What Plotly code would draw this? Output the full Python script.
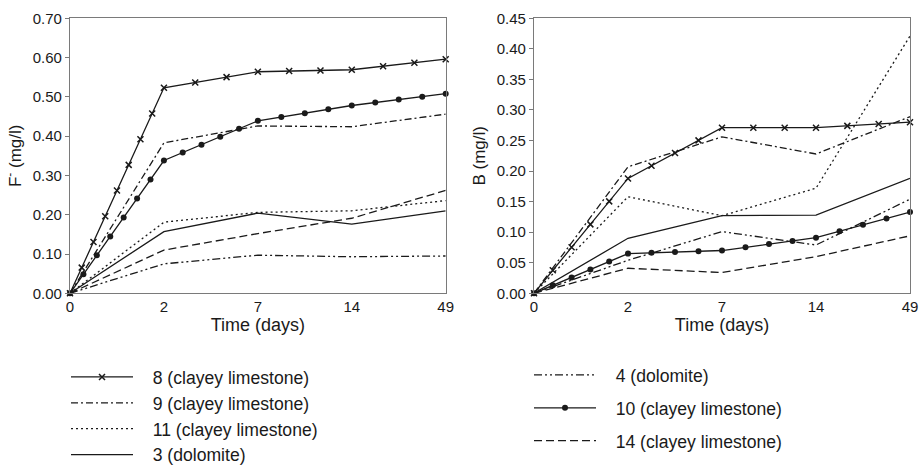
import numpy as np
import plotly.graph_objects as go

# ---------------- data ----------------
time_days = [0, 2, 7, 14, 49]          # sampling times (days), shown on an evenly spaced axis
time_labels = [str(d) for d in time_days]

# F- (mg/l)
f_8 = [0, 0.523, 0.564, 0.569, 0.596]
f_9 = [0, 0.383, 0.426, 0.424, 0.456]
f_11 = [0, 0.181, 0.206, 0.210, 0.236]
f_3 = [0, 0.157, 0.204, 0.176, 0.210]
f_4 = [0, 0.075, 0.097, 0.093, 0.095]
f_10 = [0, 0.338, 0.439, 0.478, 0.508]
f_14 = [0, 0.110, 0.152, 0.191, 0.262]

# B (mg/l)
b_8 = [0, 0.188, 0.271, 0.271, 0.280]
b_9 = [0, 0.207, 0.256, 0.228, 0.289]
b_11 = [0, 0.158, 0.127, 0.172, 0.421]
b_3 = [0, 0.090, 0.127, 0.128, 0.188]
b_4 = [0, 0.054, 0.101, 0.079, 0.154]
b_10 = [0, 0.065, 0.070, 0.091, 0.133]
b_14 = [0, 0.041, 0.034, 0.060, 0.094]

names = {
    "8": "8 (clayey limestone)", "4": "4 (dolomite)", "9": "9 (clayey limestone)",
    "10": "10 (clayey limestone)", "11": "11 (clayey limestone)",
    "14": "14 (clayey limestone)", "3": "3 (dolomite)",
}
left_legend = ["8", "9", "11", "3"]
right_legend = ["4", "10", "14"]
f_data = {"8": f_8, "9": f_9, "11": f_11, "3": f_3, "4": f_4, "10": f_10, "14": f_14}
b_data = {"8": b_8, "9": b_9, "11": b_11, "3": b_3, "4": b_4, "10": b_10, "14": b_14}

# ---------------- styles ----------------
W, H = 921, 469
FONT = "Liberation Sans, Arial, sans-serif"
INK = "#1a1a1a"
AXC = "#7a7a7a"
PAD = "\u00a0\u00a0\u00a0"   # gap between legend sample and its label
dash = {
    "8": "solid", "10": "solid", "3": "solid",
    "9": "7px,3px,2px,3px",
    "11": "2px,3px",
    "14": "8px,4px",
    "4": "8px,3px,2px,3px,2px,3px",
}
marker_style = {
    "8": dict(symbol="x-thin", size=6, line=dict(width=1.5, color=INK), color=INK),
    "10": dict(symbol="circle", size=6, color=INK, line=dict(width=0)),
}
marker_step = {"8": 28, "10": 22}   # px spacing of the line-style markers

x_dom1 = [70 / W, 445.7 / W]
x_dom2 = [534 / W, 910 / W]
y_dom = [1 - 293.3 / H, 1 - 18.3 / H]
plot_w = (x_dom1[1] - x_dom1[0]) * W
plot_h = (y_dom[1] - y_dom[0]) * H
xpos = list(range(len(time_days)))


def style_markers(xs, ys, ymax, step):
    """Line-style markers placed evenly along each segment (decoration of the line)."""
    sx = plot_w / (len(xs) - 1)
    sy = plot_h / ymax
    ox, oy = [], []
    for i in range(len(xs) - 1):
        seg = np.hypot((xs[i + 1] - xs[i]) * sx, (ys[i + 1] - ys[i]) * sy)
        n = max(1, int(round(seg / step)))
        for k in range(1, n):
            t = k / n
            ox.append(xs[i] + t * (xs[i + 1] - xs[i]))
            oy.append(ys[i] + t * (ys[i + 1] - ys[i]))
    return ox, oy


fig = go.Figure()
for panel, (data, ymax, xa, ya) in enumerate(
        [(f_data, 0.70, "x", "y"), (b_data, 0.45, "x2", "y2")]):
    for key in left_legend + right_legend:
        ys = data[key]
        has_m = key in marker_style
        fig.add_trace(go.Scatter(
            x=xpos, y=ys, xaxis=xa, yaxis=ya,
            mode="lines+markers" if has_m else "lines",
            name=PAD + names[key], legendgroup=key, showlegend=(panel == 0),
            legend="legend" if key in left_legend else "legend2",
            line=dict(color=INK, width=1.3, dash=dash[key]),
            marker=marker_style.get(key), cliponaxis=False,
        ))
        if has_m:
            mx, my = style_markers(xpos, ys, ymax, marker_step[key])
            fig.add_trace(go.Scatter(
                x=mx, y=my, xaxis=xa, yaxis=ya, mode="markers",
                legendgroup=key, showlegend=False, hoverinfo="skip",
                marker=marker_style[key],
            ))

axis_common = dict(
    showline=True, mirror=True, linecolor=AXC, linewidth=1.3, automargin=False,
    showgrid=False, zeroline=False, tickcolor=AXC,
    tickfont=dict(family=FONT, size=15, color=INK),
)
xcommon = dict(axis_common, range=[0, len(time_days) - 1], tickmode="array",
               tickvals=xpos, ticktext=time_labels, ticks="",
               title=dict(text="Time (days)", font=dict(family=FONT, size=18, color=INK),
                          standoff=0))
ycommon = dict(axis_common, ticks="outside", ticklen=4, tickformat=".2f")
legend_common = dict(
    orientation="v", xanchor="left", yanchor="top", itemwidth=62,
    font=dict(family=FONT, size=17.6, color=INK), bgcolor="rgba(0,0,0,0)",
    traceorder="grouped", itemclick=False, itemdoubleclick=False, borderwidth=0,
)

fig.update_layout(
    template="none",
    width=W, height=H,
    margin=dict(l=0, r=0, t=0, b=0, autoexpand=False),
    paper_bgcolor="white", plot_bgcolor="white",
    font=dict(family=FONT, color=INK),
    xaxis=dict(xcommon, domain=x_dom1, anchor="y"),
    xaxis2=dict(xcommon, domain=x_dom2, anchor="y2"),
    yaxis=dict(ycommon, domain=y_dom, anchor="x", range=[0, 0.70], dtick=0.10,
               title=dict(text="F<sup>-</sup> (mg/l)", font=dict(family=FONT, size=17, color=INK),
                          standoff=6)),
    yaxis2=dict(ycommon, domain=y_dom, anchor="x2", range=[0, 0.45], dtick=0.05,
                title=dict(text="B (mg/l)", font=dict(family=FONT, size=17, color=INK),
                           standoff=6)),
    legend=dict(legend_common, x=66 / W, y=1 - 359 / H, tracegroupgap=0),
    legend2=dict(legend_common, x=529 / W, y=1 - 357 / H, tracegroupgap=7),
    showlegend=True,
)

fig.write_html(
    "out.html",
    config={"displayModeBar": False},
    post_script="document.body.style.margin='0';document.body.style.overflow='hidden';",
)
